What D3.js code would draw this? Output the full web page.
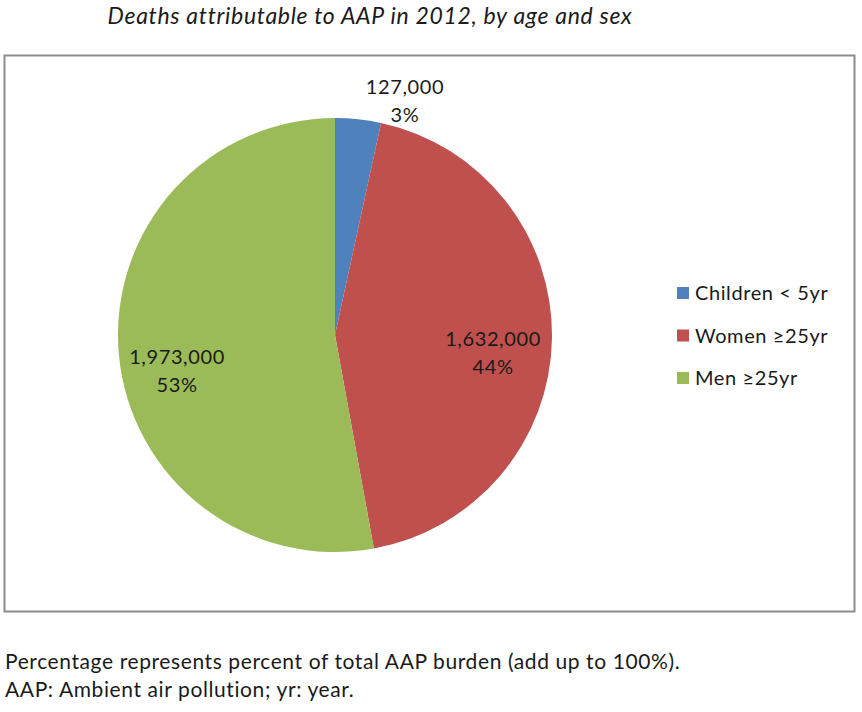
<!DOCTYPE html>
<html><head><meta charset="utf-8">
<script src="https://cdn.jsdelivr.net/npm/d3@7"></script>
<style>body{margin:0;background:#fff;} text{font-family:Lato,"Open Sans",sans-serif;fill:#1a1a1a;}</style>
</head><body>
<script>
const categories = ["Children < 5yr", "Women \u226525yr", "Men \u226525yr"];
const values = [127000, 1632000, 1973000];
const percents = ["3%", "44%", "53%"];
const colors = ["#4F81BD", "#C0504D", "#9BBB59"];
const title = "Deaths attributable to AAP in 2012, by age and sex";
const notes = ["Percentage represents percent of total AAP burden (add up to 100%).", "AAP: Ambient air pollution; yr: year."];

const W = 862, H = 712;
const svg = d3.select("body").append("svg").attr("width", W).attr("height", H);

svg.append("text").attr("x", 370).attr("y", 24).attr("text-anchor", "middle")
  .style("font-style", "italic").style("font-size", "23px").style("letter-spacing", "0.7px").text(title);

svg.append("rect").attr("x", 4.5).attr("y", 55.5).attr("width", 850).attr("height", 556)
  .attr("fill", "#fff").attr("stroke", "#8c8c8c").attr("stroke-width", 2);

const cx = 335, cy = 335, R = 217;
const pie = d3.pie().sort(null).value(d => d)(values);
const arc = d3.arc().innerRadius(0).outerRadius(R);
const g = svg.append("g").attr("transform", `translate(${cx},${cy})`);
g.selectAll("path").data(pie).join("path").attr("d", arc)
  .attr("fill", (d, i) => colors[i]).attr("stroke", "none");

const fmt = d3.format(",");
const labelPos = [[70, -241], [158, 11], [-158, 29]];
pie.forEach((d, i) => {
  const t = g.append("text").attr("text-anchor", "middle").style("font-size", "20px").style("letter-spacing", "0.6px");
  t.append("tspan").attr("x", labelPos[i][0]).attr("y", labelPos[i][1]).text(fmt(values[i]));
  t.append("tspan").attr("x", labelPos[i][0]).attr("y", labelPos[i][1] + 28).text(percents[i]);
});

const lg = svg.append("g").attr("transform", "translate(677,0)");
categories.forEach((c, i) => {
  const y = 293 + i * 42.5;
  lg.append("rect").attr("x", 0).attr("y", y - 6).attr("width", 12).attr("height", 12).attr("fill", colors[i]);
  lg.append("text").attr("x", 18).attr("y", y + 7).style("font-size", "20px").style("letter-spacing", "0.6px").text(c);
});

notes.forEach((n, i) => {
  svg.append("text").attr("x", 5).attr("y", 669 + i * 28).style("font-size", "21px").style("letter-spacing", "0.6px").text(n);
});
</script>
</body></html>
